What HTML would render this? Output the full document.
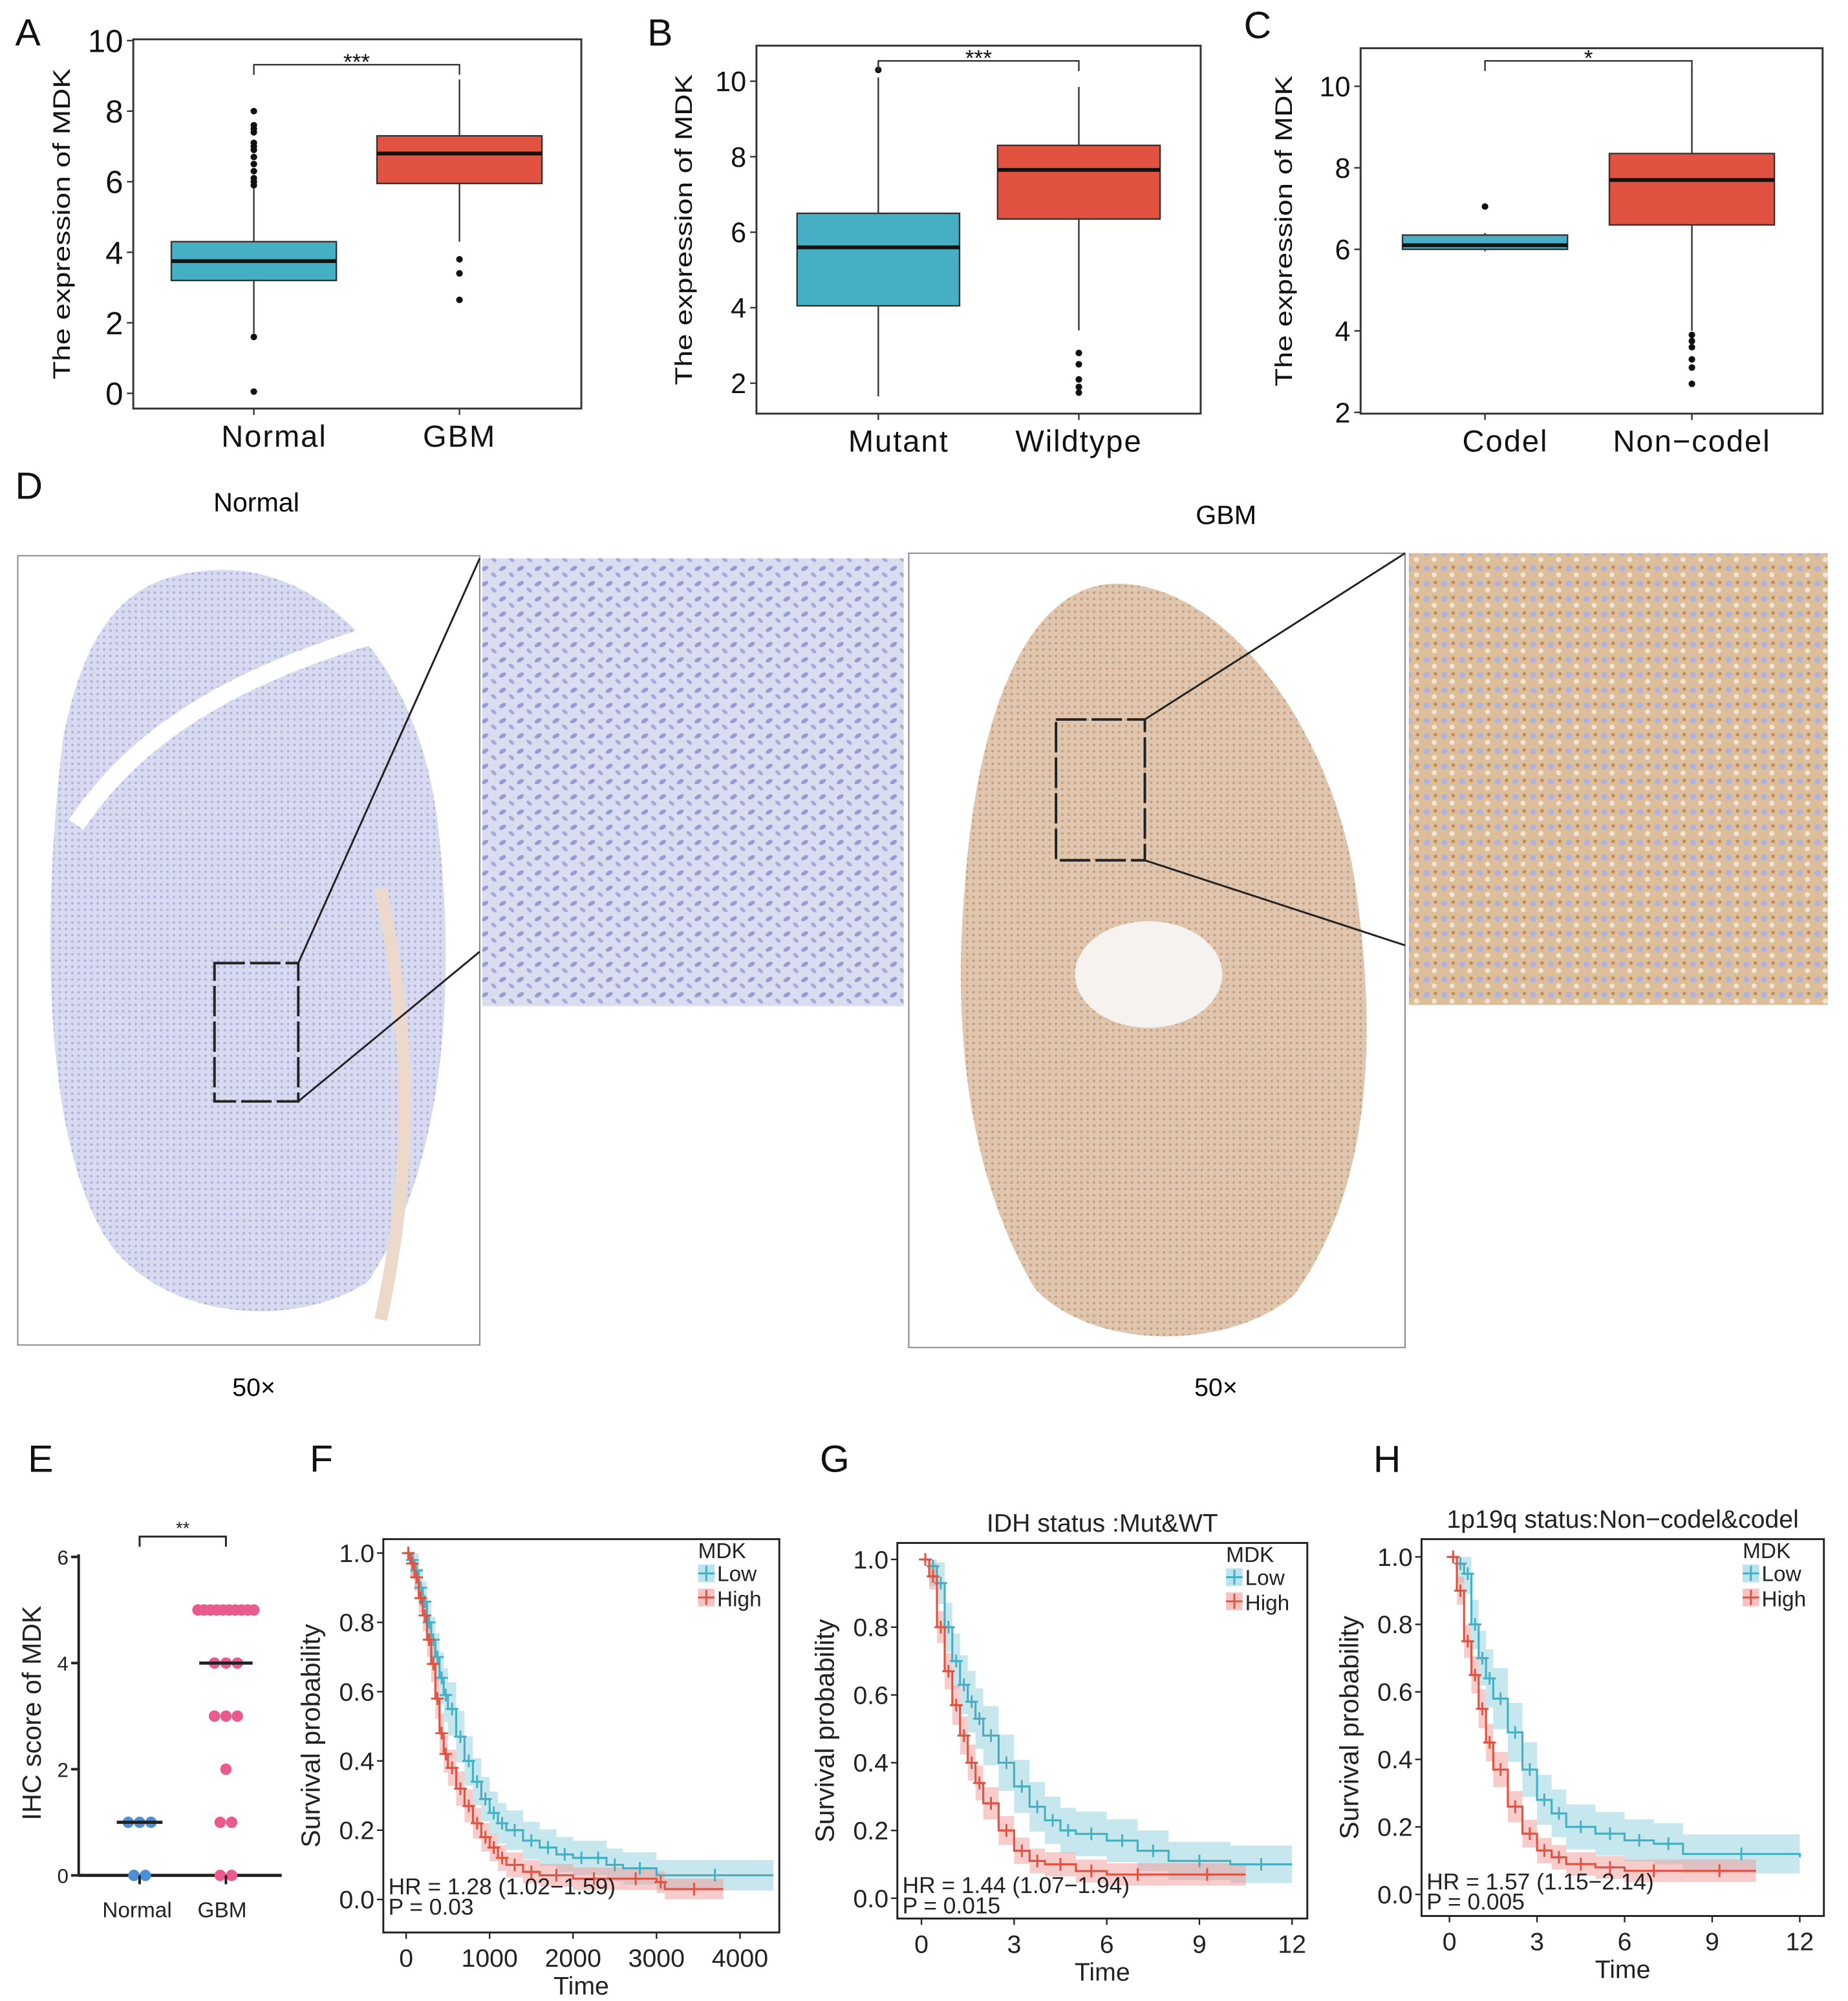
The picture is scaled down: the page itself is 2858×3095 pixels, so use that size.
<!DOCTYPE html>
<html><head><meta charset="utf-8">
<style>
html,body{margin:0;padding:0;background:#fff;}
svg{display:block;font-family:"Liberation Sans",Arial,sans-serif;}
</style></head>
<body>
<svg id="fig" width="2858" height="3095" viewBox="0 0 1456 1577" preserveAspectRatio="none" xmlns="http://www.w3.org/2000/svg">
<defs>
<pattern id="pBlue" width="14" height="12" patternUnits="userSpaceOnUse">
<rect width="14" height="12" fill="#dadcf0"/>
<ellipse cx="4" cy="4" rx="3" ry="1.6" fill="#969bd3" transform="rotate(-30 4 4)"/>
<ellipse cx="11" cy="9" rx="2.6" ry="1.4" fill="#a6aad9" transform="rotate(40 11 9)"/>
</pattern>
<pattern id="pBrown" width="14" height="12" patternUnits="userSpaceOnUse">
<rect width="14" height="12" fill="#ddbe9a"/>
<circle cx="4" cy="4" r="2.4" fill="#aeb2e0"/>
<circle cx="10" cy="9" r="2" fill="#f0e4d4"/>
<circle cx="11" cy="3" r="1.4" fill="#c28a5a"/>
</pattern>
<pattern id="pBlueFine" width="5" height="5" patternUnits="userSpaceOnUse">
<rect width="5" height="5" fill="#d8dbef"/><circle cx="2" cy="2" r="1" fill="#aeb2dc"/>
</pattern>
<pattern id="pBrownFine" width="5" height="5" patternUnits="userSpaceOnUse">
<rect width="5" height="5" fill="#e0c6ae"/><circle cx="2" cy="2" r="1" fill="#c59e80"/>
</pattern>
</defs>

<g font-size="30" fill="#111">
<text x="12" y="36">A</text>
<text x="510" y="36">B</text>
<text x="980" y="30">C</text>
<text x="12" y="393">D</text>
<text x="22" y="1160">E</text>
<text x="244" y="1160">F</text>
<text x="646" y="1160">G</text>
<text x="1082" y="1160">H</text>
</g>

<g>
<text x="202" y="403" font-size="21" text-anchor="middle">Normal</text>
<text x="966" y="413" font-size="21" text-anchor="middle">GBM</text>
<rect x="14" y="438" width="364" height="622" fill="#fff" stroke="#888" stroke-width="1"/>
<path d="M160 450 C250 440 330 520 345 650 C360 780 350 920 290 1010 C230 1050 120 1040 80 970 C30 880 35 700 50 580 C70 480 110 455 160 450 Z" fill="url(#pBlueFine)"/>
<path d="M60 650 C120 560 220 520 330 490" stroke="#fff" stroke-width="14" fill="none"/>
<path d="M300 700 C320 800 330 900 300 1040" stroke="#ecd9cc" stroke-width="10" fill="none"/>
<rect x="169" y="759" width="66" height="109" fill="none" stroke="#222" stroke-width="2" stroke-dasharray="24 4"/>
<line x1="235" y1="759" x2="378" y2="440" stroke="#222" stroke-width="1.5"/>
<line x1="235" y1="868" x2="378" y2="750" stroke="#222" stroke-width="1.5"/>
<rect x="380" y="440" width="332" height="353" fill="url(#pBlue)"/>
<rect x="716" y="436" width="391" height="626" fill="#fff" stroke="#888" stroke-width="1"/>
<path d="M880 460 C960 460 1040 560 1065 680 C1085 800 1085 930 1020 1020 C970 1065 860 1065 815 1015 C765 930 750 820 760 700 C770 560 810 460 880 460 Z" fill="url(#pBrownFine)"/>
<ellipse cx="905" cy="768" rx="58" ry="42" fill="#f6f2f0"/>
<rect x="832" y="567" width="70" height="111" fill="none" stroke="#222" stroke-width="2" stroke-dasharray="24 4"/>
<line x1="902" y1="567" x2="1107" y2="436" stroke="#222" stroke-width="1.5"/>
<line x1="902" y1="678" x2="1107" y2="745" stroke="#222" stroke-width="1.5"/>
<rect x="1110" y="436" width="330" height="356" fill="url(#pBrown)"/>
<text x="200" y="1100" font-size="20" text-anchor="middle">50×</text>
<text x="958" y="1100" font-size="20" text-anchor="middle">50×</text>
</g>

<g id="charts"></g>
</svg>
<script>
const boxCatsA = ["Normal","GBM"];
const boxStatsA = [[1.7,3.2,3.75,4.3,5.85],[4.3,5.95,6.8,7.3,8.9]];
const boxOutA = [[1.6,0.05,5.9,6.0,6.1,6.3,6.5,6.7,6.9,7.0,7.1,7.4,7.5,7.6,8.0],[3.8,3.4,2.65]];
const boxCatsB = ["Mutant","Wildtype"];
const boxStatsB = [[1.65,4.05,5.6,6.5,10.1],[3.4,6.35,7.65,8.3,9.85]];
const boxOutB = [[10.3],[2.8,2.5,2.1,1.9,1.75]];
const boxCatsC = ["Codel","Non\u2212codel"];
const boxStatsC = [[5.95,6.0,6.1,6.35,6.4],[4.0,6.6,7.7,8.35,10.4]];
const boxOutC = [[7.05],[3.9,3.75,3.6,3.3,3.1,2.7]];
const ticksA = [0,2,4,6,8,10];
const ticksB = [2,4,6,8,10];
const ticksC = [2,4,6,8,10];

const eNormalVals = [1,1,1,0,0];
const eGbmVals = [5,5,5,5,5,5,5,5,5,5,4,4,4,3,3,3,2,1,1,0,0];
const eMedians = [1,4];
const eTicks = [0,2,4,6];

const fLowT=[0,50,100,150,200,250,300,350,400,450,500,600,700,800,900,1000,1100,1200,1400,1600,1800,2000,2200,2400,2600,3000,4400];
const fLowS=[1,0.98,0.95,0.9,0.86,0.8,0.75,0.7,0.64,0.59,0.55,0.47,0.4,0.34,0.29,0.25,0.22,0.2,0.17,0.15,0.13,0.12,0.12,0.1,0.09,0.07,0.07];
const fHighT=[0,50,100,150,200,250,300,350,400,450,500,600,700,800,900,1000,1100,1200,1400,1600,2000,2500,3000,3100,3800];
const fHighS=[1,0.97,0.93,0.87,0.82,0.75,0.68,0.58,0.48,0.42,0.38,0.32,0.27,0.22,0.18,0.15,0.12,0.1,0.08,0.07,0.06,0.06,0.05,0.03,0.03];
const fTicks=[0,1000,2000,3000,4000];
const gLowT=[0,0.25,0.5,0.75,1,1.25,1.5,1.75,2,2.5,3,3.5,4,4.5,5,6,7,8,10,12];
const gLowS=[1,0.98,0.93,0.8,0.7,0.63,0.58,0.53,0.48,0.4,0.33,0.27,0.23,0.2,0.19,0.17,0.14,0.11,0.1,0.1];
const gHighT=[0,0.25,0.5,0.75,1,1.25,1.5,1.75,2,2.5,3,3.5,4,5,6,8,10.5];
const gHighS=[1,0.95,0.8,0.67,0.57,0.48,0.4,0.34,0.28,0.2,0.14,0.11,0.1,0.08,0.07,0.07,0.07];
const hLowT=[0,0.25,0.5,0.75,1,1.25,1.5,2,2.5,3,3.5,4,5,6,7,8,12];
const hLowS=[1,0.98,0.95,0.8,0.7,0.64,0.58,0.48,0.37,0.28,0.24,0.2,0.18,0.16,0.15,0.12,0.11];
const hHighT=[0,0.25,0.5,0.75,1,1.25,1.5,2,2.5,3,3.5,4,5,6,8,10.5];
const hHighS=[1,0.9,0.75,0.65,0.55,0.45,0.37,0.26,0.18,0.13,0.11,0.09,0.08,0.07,0.07,0.07];
const yrTicks=[0,3,6,9,12];
const survTicks=[0,0.2,0.4,0.6,0.8,1.0];

const NS="http://www.w3.org/2000/svg";
const root=document.getElementById('charts');
function mk(tag,attrs,parent){const e=document.createElementNS(NS,tag);for(const k in attrs)e.setAttribute(k,attrs[k]);(parent||root).appendChild(e);return e;}
function txt(s,attrs,parent){const e=mk('text',attrs,parent);e.textContent=s;return e;}

const TEAL="#45b0c3", RED="#e25241";

function boxPanel(id,box,ylo,yhi,v0,v1,ticks,cats,stats,outs,centers,halfW,sig,sigY,ytitleX,tickFs){
  const g=mk('g',{});
  
  
  const ys=v=>ylo+(v-v0)*(yhi-ylo)/(v1-v0);
  const fr=mk('rect',{x:box[0],y:box[1],width:box[2]-box[0],height:box[3]-box[1],fill:'none',stroke:'#333','stroke-width':1.5},g);
  
  
  ticks.forEach(t=>{
    mk('line',{x1:box[0]-5,x2:box[0],y1:ys(t),y2:ys(t),stroke:'#333','stroke-width':1.2},g);
    const tl=txt(String(t),{x:box[0]-8,y:ys(t)+tickFs*0.36,'font-size':tickFs,'text-anchor':'end',fill:'#111'},g);
    
    
  });
  const yt=txt('The expression of MDK',{x:ytitleX,y:(box[1]+box[3])/2,'font-size':19,'text-anchor':'middle',transform:`rotate(-90 ${ytitleX} ${(box[1]+box[3])/2})`,fill:'#111',textLength:245,lengthAdjust:'spacingAndGlyphs'},g);
  
  
  cats.forEach((c,i)=>{
    const cx=centers[i], s=stats[i], col=i==0?TEAL:RED;
    mk('line',{x1:cx,x2:cx,y1:ys(s[0]),y2:ys(s[4]),stroke:'#333','stroke-width':1.2},g);
    const b=mk('rect',{x:cx-halfW,y:ys(s[3]),width:2*halfW,height:ys(s[1])-ys(s[3]),fill:col,stroke:'#333','stroke-width':1.2},g);
    
    
    mk('line',{x1:cx-halfW,x2:cx+halfW,y1:ys(s[2]),y2:ys(s[2]),stroke:'#111','stroke-width':3},g);
    outs[i].forEach(o=>{
      const d=mk('circle',{cx:cx,cy:ys(o),r:2.6,fill:'#111'},g);
      
      
    });
    mk('line',{x1:cx,x2:cx,y1:box[3],y2:box[3]+5,stroke:'#333','stroke-width':1.2},g);
    const xl=txt(c,{x:cx+(i==0?16:0),y:box[3]+30,'font-size':24,'text-anchor':'middle',fill:'#111','letter-spacing':'1'},g);
    
    
  });
  mk('path',{d:`M${centers[0]} ${sigY+8}V${sigY}H${centers[1]}V${sigY+8}`,fill:'none',stroke:'#333','stroke-width':1.2},g);
  const st=txt(sig,{x:(centers[0]+centers[1])/2,y:sigY+4,'font-size':18,'text-anchor':'middle',fill:'#111'},g);
  
  
}
boxPanel('box-plot-a',[105,31,458,322],310,32,0,10,ticksA,boxCatsA,boxStatsA,boxOutA,[200,362],65,'***',51,55,25);
boxPanel('box-plot-b',[596,36,946,326],302,64,2,10,ticksB,boxCatsB,boxStatsB,boxOutB,[692,850],64,'***',48,545,22);
boxPanel('box-plot-c',[1072,38,1436,326],325,68,2,10,ticksC,boxCatsC,boxStatsC,boxOutC,[1170,1333],65,'*',48,1018,22);

(function(){
  const g=mk('g',{});
  
  
  const ys=v=>1478-v*(1478-1227)/6;
  mk('line',{x1:62,x2:62,y1:1225,y2:1478,stroke:'#222','stroke-width':2},g);
  mk('line',{x1:62,x2:222,y1:1478,y2:1478,stroke:'#222','stroke-width':2.5},g);
  eTicks.forEach(t=>{
    mk('line',{x1:56,x2:62,y1:ys(t),y2:ys(t),stroke:'#222','stroke-width':2},g);
    const l=txt(String(t),{x:54,y:ys(t)+6,'font-size':16,'text-anchor':'end',fill:'#222'},g);
    
    
  });
  const yt=txt('IHC score of MDK',{x:32,y:1350,'font-size':21,'text-anchor':'middle',transform:'rotate(-90 32 1350)',fill:'#222'},g);
  
  
  const groups=[[eNormalVals,110,'#4a8fd8','normal'],[eGbmVals,178,'#e95b8e','gbm']];
  groups.forEach(([vals,cx,col,nm],gi)=>{
    const counts={};vals.forEach(v=>counts[v]=(counts[v]||0)+1);
    const seen={};
    vals.forEach(v=>{
      const n=counts[v], k=(seen[v]=(seen[v]||0)+1)-1;
      const x=cx+(k-(n-1)/2)*(n>6?4.9:9);
      const d=mk('circle',{cx:x,cy:ys(v),r:4.5,fill:col},g);
      
      
    });
    mk('line',{x1:cx-(gi?21:18),x2:cx+(gi?21:18),y1:ys(eMedians[gi]),y2:ys(eMedians[gi]),stroke:'#222','stroke-width':2.5},g);
    mk('line',{x1:cx,x2:cx,y1:1478,y2:1485,stroke:'#222','stroke-width':2},g);
  });
  txt('Normal',{x:108,y:1511,'font-size':17,'text-anchor':'middle',fill:'#222'},g);
  txt('GBM',{x:175,y:1511,'font-size':17,'text-anchor':'middle',fill:'#222'},g);
  mk('path',{d:'M110 1219V1211H178V1219',fill:'none',stroke:'#222','stroke-width':1.5},g);
  txt('**',{x:144,y:1209,'font-size':14,'text-anchor':'middle',fill:'#222'},g);
})();

function km(id,box,xa,xb,x0,x1,y0p,y1p,xticks,low,high,title,hr,p,lowCI,highCI){
  const g=mk('g',{});
  
  
  const xs=v=>xa+(v-x0)*(xb-xa)/(x1-x0);
  const ys=v=>y0p+v*(y1p-y0p);
  function stepPts(T,S){let d='';T.forEach((t,i)=>{d+=(i==0?'M'+xs(t).toFixed(1)+' '+ys(S[i]).toFixed(1):'H'+xs(t).toFixed(1)+' V'+ys(S[i]).toFixed(1))+' ';});return d;}
  function band(T,S,w,col){
    let up=[],lo=[];
    T.forEach((t,i)=>{
      const f=i==0?0:Math.min(1,0.3+S[i]*1.2)*(1-S[i]*0.6);
      const u=Math.min(1,S[i]+w*f), l=Math.max(0,S[i]-w*f);
      const tn=i<T.length-1?T[i+1]:T[i];
      up.push([xs(t),ys(u)],[xs(tn),ys(u)]);lo.push([xs(t),ys(l)],[xs(tn),ys(l)]);
    });
    const pts=up.concat(lo.reverse()).map(p=>p[0].toFixed(1)+','+p[1].toFixed(1)).join(' ');
    const b=mk('polygon',{points:pts,fill:col,opacity:0.5},g);
    
    
  }
  band(low[0],low[1],lowCI,'#8fd0dd');
  band(high[0],high[1],highCI,'#f29a95');
  [[low,TEAL,'low'],[high,RED,'high']].forEach(([d,col,nm])=>{
    const pth=mk('path',{d:stepPts(d[0],d[1]),fill:'none',stroke:col,'stroke-width':1.6},g);
    
    
    d[0].forEach((t,i)=>{
      if(i==0)return;
      const cx=(xs(t)+xs(d[0][i-1]))/2, cy=ys(d[1][i-1]);
      const c=mk('path',{d:`M${cx-5} ${cy}h10M${cx} ${cy-5}v10`,stroke:col,'stroke-width':1.5},g);
      
      
    });
  });
  mk('rect',{x:box[0],y:box[1],width:box[2]-box[0],height:box[3]-box[1],fill:'none',stroke:'#222','stroke-width':1.5},g);
  survTicks.forEach(t=>{
    mk('line',{x1:box[0]-5,x2:box[0],y1:ys(t),y2:ys(t),stroke:'#222','stroke-width':1.2},g);
    const l=txt(t.toFixed(1),{x:box[0]-7,y:ys(t)+7,'font-size':20,'text-anchor':'end',fill:'#222'},g);
    
    
  });
  xticks.forEach(t=>{
    mk('line',{x1:xs(t),x2:xs(t),y1:box[3],y2:box[3]+5,stroke:'#222','stroke-width':1.2},g);
    const l=txt(String(t),{x:xs(t),y:box[3]+27,'font-size':20,'text-anchor':'middle',fill:'#222'},g);
    
    
  });
  const xt=txt('Time',{x:(box[0]+box[2])/2,y:box[3]+49,'font-size':20,'text-anchor':'middle',fill:'#222'},g);
  
  
  const yx=box[0]-50, yy=(box[1]+box[3])/2;
  const yt=txt('Survival probability',{x:yx,y:yy,'font-size':21,'text-anchor':'middle',transform:`rotate(-90 ${yx} ${yy})`,fill:'#222'},g);
  
  
  if(title){const tt=txt(title,{x:(box[0]+box[2])/2,y:box[1]-9,'font-size':20,'text-anchor':'middle',fill:'#222'},g);
    
    }
  const lx=box[2]-64, ly=box[1];
  const lg=mk('g',{},g);
  
  
  txt('MDK',{x:lx,y:ly+15,'font-size':17,fill:'#222'},lg);
  mk('rect',{x:lx,y:ly+20,width:13,height:14,fill:'#8fd0dd',opacity:0.6},lg);
  mk('path',{d:`M${lx} ${ly+27}h13M${lx+6.5} ${ly+21}v12`,stroke:TEAL,'stroke-width':1.5},lg);
  txt('Low',{x:lx+15,y:ly+33,'font-size':17,fill:'#222'},lg);
  mk('rect',{x:lx,y:ly+39,width:13,height:14,fill:'#f29a95',opacity:0.6},lg);
  mk('path',{d:`M${lx} ${ly+46}h13M${lx+6.5} ${ly+40}v12`,stroke:RED,'stroke-width':1.5},lg);
  txt('High',{x:lx+15,y:ly+53,'font-size':17,fill:'#222'},lg);
  const h=txt(hr,{x:box[0]+4,y:ys(0)-4,'font-size':18,fill:'#222'},g);
  
  
  const pp=txt(p,{x:box[0]+4,y:ys(0)+12,'font-size':18,fill:'#222'},g);
  
  
}
km('km-plot-f',[302,1213,614,1523],320,583,0,4000,1497,1224,fTicks,[fLowT,fLowS],[fHighT,fHighS],null,'HR = 1.28 (1.02\u22121.59)','P = 0.03',0.12,0.09);
km('km-plot-g',[707,1216,1030,1512],726,1018,0,12,1496,1229,yrTicks,[gLowT,gLowS],[gHighT,gHighS],'IDH status :Mut&WT','HR = 1.44 (1.07\u22121.94)','P = 0.015',0.14,0.09);
km('km-plot-h',[1120,1213,1437,1510],1142,1418,0,12,1493,1227,yrTicks,[hLowT,hLowS],[hHighT,hHighS],'1p19q status:Non\u2212codel&codel','HR = 1.57 (1.15\u22122.14)','P = 0.005',0.14,0.09);
</script>
</body></html>
